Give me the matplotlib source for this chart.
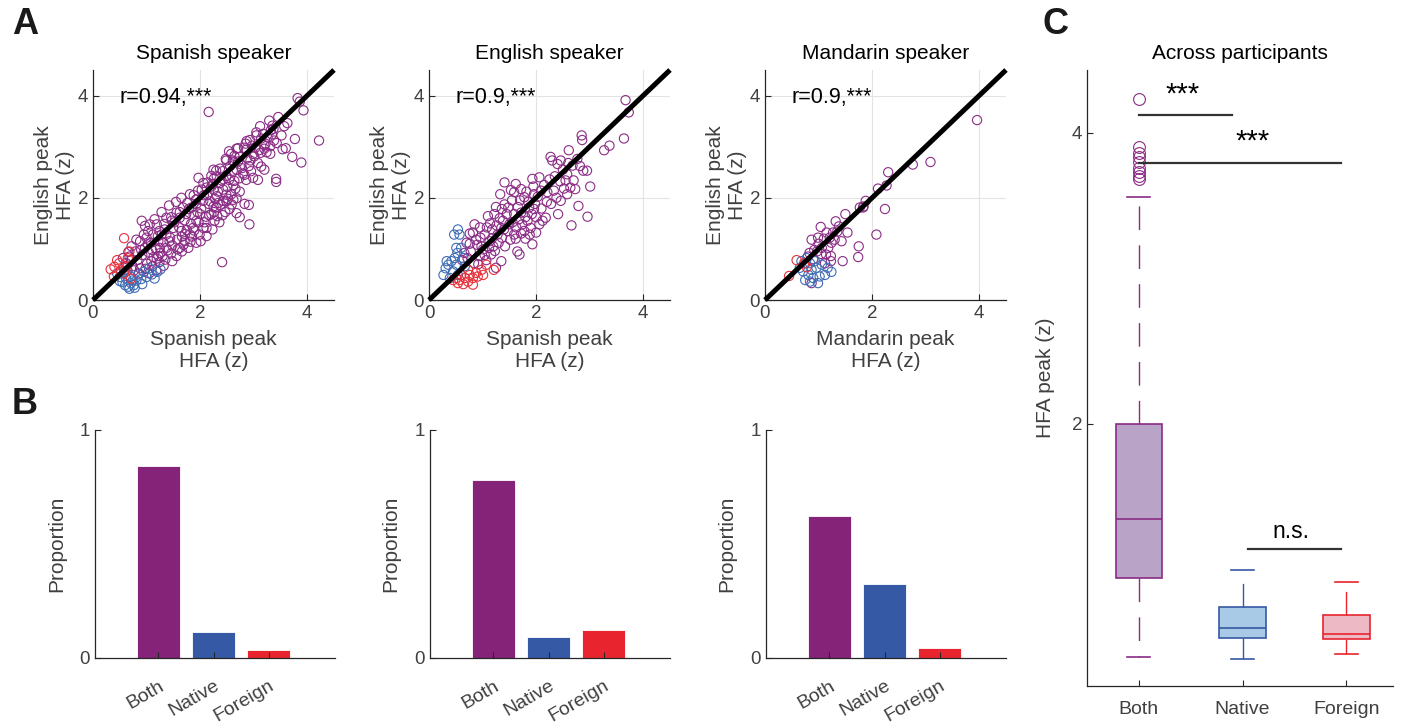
import numpy as np
import matplotlib
matplotlib.use("Agg")
from matplotlib import pyplot as plt

plt.rcParams['font.family'] = ['Liberation Sans', 'DejaVu Sans']

PURPLE = '#842377'
BLUE = '#3559A5'
RED = '#E8252F'
SC_PURPLE = '#8B2C86'
SC_BLUE = '#3F6DB5'
SC_RED = '#E8303A'
GRAY_TXT = '#404040'

# ---- scatter data: (native-language peak, English peak) per electrode ----
spanish_both = [
    (3.82, 3.95), (3.86, 3.88), (3.93, 3.71), (3.77, 3.15), (4.22, 3.12), (3.72, 2.80),
    (3.89, 2.69), (3.42, 2.37), (3.42, 2.31), (2.16, 3.68), (3.29, 3.51), (3.35, 3.41),
    (3.57, 3.40), (3.63, 3.46), (3.05, 3.28), (3.37, 3.35), (3.34, 3.24), (3.43, 3.07),
    (3.31, 3.01), (3.31, 2.86), (3.20, 2.96), (3.13, 2.88), (2.87, 3.11), (3.03, 2.98),
    (2.71, 2.97), (2.54, 2.91), (2.48, 2.76), (2.86, 2.94), (2.99, 2.86), (2.94, 2.73),
    (3.14, 2.61), (3.20, 2.55), (3.08, 2.35), (2.99, 2.39), (2.86, 2.35), (2.83, 2.45),
    (2.68, 2.55), (2.77, 2.65), (2.62, 2.71), (2.95, 2.52), (2.25, 2.55), (2.31, 2.42),
    (2.37, 2.29), (2.54, 2.35), (2.62, 2.25), (2.83, 1.88), (2.68, 1.99), (2.49, 2.06),
    (2.43, 2.16), (2.74, 2.12), (1.97, 2.39), (2.06, 2.29), (2.03, 2.16), (2.13, 2.06),
    (2.25, 2.16), (2.31, 2.03), (2.19, 1.93), (2.34, 1.90), (2.25, 1.83), (2.49, 1.93),
    (2.62, 1.96), (2.41, 0.74), (2.92, 1.48), (2.91, 1.86), (2.68, 1.70), (2.74, 1.62),
    (2.59, 1.87), (2.06, 1.41), (1.93, 1.55), (2.00, 1.68), (1.81, 1.28), (1.71, 1.15),
    (1.93, 1.12), (1.56, 0.86), (1.37, 1.02), (1.25, 1.02), (1.22, 0.86), (1.09, 0.76),
    (0.91, 1.55), (0.97, 1.45), (1.06, 1.48), (1.19, 1.48), (1.37, 1.61), (1.65, 2.00),
    (1.68, 1.81), (1.56, 1.71), (2.12, 2.20), (2.21, 2.43), (2.30, 2.53), (2.37, 2.57),
    (2.49, 2.73), (2.58, 2.86), (2.68, 2.96), (2.74, 2.80), (2.85, 3.06), (2.93, 3.13),
    (3.05, 3.22), (3.14, 3.16), (3.20, 3.03), (3.24, 2.89), (2.61, 2.73), (2.49, 2.43),
    (2.40, 2.34), (2.24, 2.27), (2.61, 2.53), (2.80, 2.47), (2.58, 2.07), (2.43, 1.94),
    (2.30, 1.81), (2.21, 1.68), (2.32, 1.64), (2.27, 1.55), (1.99, 1.28), (2.12, 1.41),
    (1.93, 1.88), (2.06, 1.94), (1.81, 2.07), (1.96, 2.14), (1.84, 1.81), (1.74, 1.68),
    (1.62, 1.61), (1.50, 1.41), (1.47, 1.55), (1.37, 1.28), (1.28, 1.28), (1.12, 1.28),
    (1.00, 1.22), (0.88, 1.15), (1.22, 1.15), (1.43, 1.15), (1.62, 1.02), (1.78, 1.02),
    (1.87, 1.41), (1.65, 1.35), (0.62, 0.72), (0.68, 0.85), (0.74, 0.66), (0.79, 0.95),
    (0.83, 0.78), (0.88, 0.62), (0.92, 0.88), (0.97, 1.02), (1.01, 0.71), (1.04, 0.93),
    (1.08, 1.12), (1.13, 0.84), (1.17, 1.01), (1.21, 1.25), (1.26, 0.92), (1.31, 1.13),
    (1.34, 1.38), (1.39, 0.97), (1.44, 1.22), (1.48, 1.07), (1.52, 1.52), (1.57, 1.18),
    (1.61, 1.42), (1.66, 1.24), (1.71, 1.56), (1.75, 1.37), (1.79, 1.78), (1.83, 1.49),
    (1.88, 1.66), (1.92, 1.96), (1.97, 1.52), (2.02, 1.79), (2.07, 2.05), (2.11, 1.63),
    (2.16, 1.88), (2.21, 2.22), (2.26, 1.72), (2.33, 2.12), (2.38, 1.86), (2.44, 2.36),
    (2.51, 2.21), (2.56, 2.62), (2.64, 2.33), (2.71, 2.71), (2.78, 2.58), (2.88, 2.77),
    (2.97, 3.02), (3.08, 2.68), (3.18, 3.25), (3.26, 3.18), (3.38, 3.12), (3.46, 3.58),
    (3.52, 3.22), (3.54, 2.95), (3.60, 2.97), (0.72, 1.05), (0.81, 1.18), (0.66, 0.94),
    (0.95, 1.28), (1.03, 1.35), (1.15, 1.58), (1.28, 1.72), (1.42, 1.85), (1.55, 1.92),
    (0.77, 0.58), (0.86, 0.52), (0.98, 0.61), (1.11, 0.66), (1.24, 0.74), (1.35, 0.79),
    (1.46, 0.91), (1.66, 0.95), (1.82, 1.14), (2.01, 1.15), (2.12, 1.25), (2.23, 1.38),
    (2.36, 1.52), (2.47, 1.72), (2.55, 1.78), (1.05, 0.52), (1.18, 0.58), (0.56, 0.82),
    (0.58, 0.63), (0.64, 0.58), (0.71, 0.78), (0.90, 0.98), (1.02, 1.09), (1.10, 0.98),
    (1.19, 0.81), (1.30, 0.86), (1.32, 0.67), (1.48, 0.76), (1.58, 0.99), (1.69, 1.08),
    (1.72, 1.29), (1.85, 1.24), (1.89, 1.36), (1.95, 1.72), (2.08, 1.52), (2.17, 1.66),
    (2.28, 1.98), (2.42, 1.66), (2.52, 1.98), (2.66, 2.18), (2.73, 2.38), (2.91, 2.62),
    (3.01, 2.81), (3.10, 2.93), (3.22, 3.06), (3.32, 3.32), (3.12, 3.40), (2.82, 2.98),
    (2.64, 2.82), (2.42, 2.52), (2.26, 2.38), (2.14, 2.30), (1.88, 2.05), (1.76, 1.90),
    (1.62, 1.72), (1.46, 1.62), (1.33, 1.49), (1.24, 1.35),
]
spanish_native = [
    (0.55, 0.35), (0.60, 0.29), (0.66, 0.26), (0.71, 0.33), (0.76, 0.29), (0.62, 0.42),
    (0.50, 0.45), (0.81, 0.38), (0.90, 0.41), (1.00, 0.45), (1.10, 0.50), (1.20, 0.55),
    (1.26, 0.60), (0.85, 0.50), (0.70, 0.46), (0.58, 0.55), (0.95, 0.55), (1.05, 0.62),
    (0.68, 0.22), (0.78, 0.24), (0.50, 0.37), (0.45, 0.52), (0.64, 0.58), (1.15, 0.42),
    (0.92, 0.31), (0.74, 0.38),
]
spanish_foreign = [
    (0.58, 1.21), (0.33, 0.60), (0.40, 0.65), (0.49, 0.72), (0.65, 0.82), (0.68, 0.95),
    (0.58, 0.52), (0.71, 0.42), (0.39, 0.46), (0.52, 0.58), (0.45, 0.78), (0.62, 0.66),
]

english_both = [
    (3.67, 3.91), (3.73, 3.67), (3.64, 3.16), (3.27, 2.93), (3.37, 3.02), (2.85, 3.22),
    (2.86, 3.13), (2.88, 2.53), (2.95, 2.53), (3.01, 2.22), (2.96, 1.63), (2.79, 1.84),
    (2.66, 1.46), (2.41, 1.68), (2.61, 2.93), (2.27, 2.80), (2.30, 2.73), (2.46, 2.73),
    (2.40, 2.66), (2.77, 2.76), (2.70, 2.34), (2.73, 2.17), (2.64, 2.20), (2.58, 2.07),
    (2.46, 1.94), (2.33, 2.14), (2.21, 2.11), (2.06, 2.40), (1.93, 2.37), (2.09, 2.14),
    (1.96, 2.07), (1.78, 2.01), (1.72, 2.17), (1.59, 2.11), (1.62, 2.27), (1.53, 2.15),
    (1.41, 2.30), (1.33, 2.07), (1.48, 1.81), (1.41, 1.87), (1.59, 1.68), (1.72, 1.71),
    (1.87, 1.81), (1.96, 1.78), (2.18, 1.61), (2.06, 1.48), (1.90, 1.41), (1.93, 1.09),
    (1.65, 0.95), (1.69, 0.89), (1.78, 1.35), (1.59, 1.28), (1.22, 1.68), (1.10, 1.64),
    (1.04, 1.28), (1.13, 1.15), (0.98, 1.05), (0.85, 1.48), (0.82, 1.32), (0.70, 1.12),
    (1.35, 1.41), (1.38, 1.55), (1.28, 1.28), (1.16, 0.89), (1.35, 0.76), (1.25, 0.63),
    (0.72, 0.82), (0.78, 0.95), (0.84, 0.72), (0.90, 1.08), (0.95, 0.86), (1.01, 0.99),
    (1.07, 0.78), (1.12, 1.02), (1.18, 1.21), (1.23, 0.96), (1.30, 1.12), (1.36, 1.22),
    (1.42, 1.05), (1.47, 1.35), (1.52, 1.18), (1.56, 1.52), (1.63, 1.42), (1.68, 1.58),
    (1.74, 1.48), (1.80, 1.62), (1.85, 1.92), (1.92, 1.68), (1.98, 1.88), (2.03, 2.02),
    (2.10, 1.79), (2.15, 2.25), (2.20, 1.92), (2.25, 2.36), (2.35, 2.42), (2.50, 2.55),
    (2.55, 2.34), (2.68, 2.63), (2.82, 2.62), (2.52, 2.18), (2.38, 2.00), (2.28, 1.88),
    (2.12, 1.55), (2.00, 1.62), (1.84, 1.55), (1.66, 1.82), (1.55, 1.95), (1.45, 1.68),
    (1.32, 1.60), (1.26, 1.46), (1.18, 1.38), (1.08, 1.42), (0.96, 1.22), (0.88, 1.18),
    (0.76, 1.10), (0.66, 0.92), (0.62, 0.78), (0.92, 0.70), (1.04, 0.88), (1.20, 1.05),
    (1.40, 1.38), (1.50, 1.48), (1.62, 1.20), (1.72, 1.30), (1.80, 1.20), (1.88, 1.28),
    (2.00, 1.32), (2.45, 2.32), (2.58, 2.46), (2.60, 2.68), (1.95, 2.22), (1.82, 2.12),
    (1.70, 1.95), (1.36, 1.78), (1.25, 1.82), (1.14, 1.50), (0.95, 1.42), (0.76, 1.30),
]
english_native = [
    (0.54, 1.38), (0.47, 1.28), (0.57, 1.28), (0.51, 1.02), (0.33, 0.76), (0.27, 0.49),
    (0.36, 0.69), (0.42, 0.76), (0.48, 0.82), (0.53, 0.92), (0.60, 1.02), (0.39, 0.43),
    (0.51, 0.69), (0.31, 0.62), (0.45, 0.56), (0.54, 0.49), (0.64, 0.82), (0.67, 0.66),
]
english_foreign = [
    (0.45, 0.39), (0.54, 0.33), (0.64, 0.31), (0.73, 0.36), (0.67, 0.43), (0.82, 0.43),
    (0.98, 0.59), (1.07, 0.69), (1.21, 0.59), (0.88, 0.53), (0.76, 0.49), (0.60, 0.49),
    (0.57, 0.39), (0.51, 0.43), (0.82, 0.30), (0.91, 0.46), (0.73, 0.59), (1.01, 0.49),
]

mandarin_both = [
    (3.96, 3.52), (2.76, 2.65), (3.09, 2.70), (2.30, 2.50), (2.11, 2.18), (2.27, 2.24),
    (1.88, 1.94), (1.84, 1.83), (1.77, 1.81), (1.83, 1.81), (2.24, 1.78), (2.08, 1.28),
    (1.75, 1.05), (1.74, 0.84), (1.50, 1.68), (1.54, 1.32), (1.32, 1.54), (1.43, 1.15),
    (1.21, 1.22), (1.24, 1.12), (1.27, 1.32), (1.04, 1.43), (0.99, 1.22), (1.06, 1.02),
    (0.87, 1.18), (0.83, 0.92), (1.23, 0.86), (1.23, 0.76), (1.45, 0.76), (1.14, 0.89),
    (0.97, 0.95), (0.87, 0.33), (1.35, 1.34), (0.80, 0.85), (0.92, 0.98), (1.00, 1.10),
    (1.10, 1.20), (1.15, 1.32), (1.30, 1.18), (1.38, 1.44), (0.90, 0.80), (1.05, 0.90),
    (1.18, 1.02), (0.75, 0.72), (1.12, 0.72),
]
mandarin_native = [
    (0.65, 0.63), (0.71, 0.56), (0.81, 0.49), (0.90, 0.43), (0.99, 0.33), (0.84, 0.36),
    (0.75, 0.39), (0.96, 0.63), (1.06, 0.69), (1.12, 0.49), (1.24, 0.55), (0.93, 0.76),
    (0.84, 0.72), (1.02, 0.46), (0.68, 0.76), (0.78, 0.82), (1.17, 0.63), (0.87, 0.59),
]
mandarin_foreign = [(0.45, 0.47), (0.59, 0.78), (0.73, 0.72), (0.78, 0.64)]

speakers = ['Spanish speaker', 'English speaker', 'Mandarin speaker']
x_labels = ['Spanish peak\nHFA (z)', 'Spanish peak\nHFA (z)', 'Mandarin peak\nHFA (z)']
r_labels = ['r=0.94,***', 'r=0.9,***', 'r=0.9,***']
scatter_sets = [
    (spanish_both, spanish_native, spanish_foreign),
    (english_both, english_native, english_foreign),
    (mandarin_both, mandarin_native, mandarin_foreign),
]

# ---- proportion of electrodes per category ----
categories = ['Both', 'Native', 'Foreign']
proportions = [
    [0.84, 0.116, 0.036],
    [0.78, 0.091, 0.123],
    [0.624, 0.323, 0.046],
]

# ---- across-participant peak HFA summary (boxplot stats) ----
box_q1 = [0.944, 0.53, 0.52]
box_med = [1.35, 0.60, 0.556]
box_q3 = [2.0, 0.74, 0.69]
box_lo = [0.40, 0.387, 0.42]
box_hi = [3.56, 0.997, 0.916]
both_outliers = [4.23, 3.90, 3.86, 3.83, 3.80, 3.76, 3.73, 3.70, 3.68]
box_edge = ['#8A2B84', '#3559A5', '#E8252F']
box_face = ['#B9A3C7', '#A9CAE6', '#EDB9C4']

W, H = 1405, 723


def rect(left, top, right, bottom):
    return [left / W, 1 - bottom / H, (right - left) / W, (bottom - top) / H]


def style_axes(ax):
    for side in ('top', 'right'):
        ax.spines[side].set_visible(False)
    for side in ('left', 'bottom'):
        ax.spines[side].set_color('#262626')
        ax.spines[side].set_linewidth(0.9)
    ax.tick_params(direction='in', length=4, width=0.8, colors='#262626',
                   labelcolor=GRAY_TXT, labelsize=13.5)


fig = plt.figure(figsize=(W / 100, H / 100), dpi=100)

# panel A: scatter of peak HFA
a_lefts = [93, 429, 765]
for i, left in enumerate(a_lefts):
    ax = fig.add_axes(rect(left, 70, left + 241, 300))
    style_axes(ax)
    both, native, foreign = [np.array(s) for s in scatter_sets[i]]
    kw = dict(s=44, facecolors='none', linewidths=0.8, zorder=2)
    ax.scatter(both[:, 0], both[:, 1], edgecolors=SC_PURPLE, **kw)
    ax.scatter(native[:, 0], native[:, 1], edgecolors=SC_BLUE, **kw)
    ax.scatter(foreign[:, 0], foreign[:, 1], edgecolors=SC_RED, **kw)
    ax.plot([0, 4.5], [0, 4.5], color='black', lw=3.6, zorder=3,
            solid_capstyle='butt', clip_on=False)
    ax.set_xlim(0, 4.5)
    ax.set_ylim(0, 4.5)
    ax.set_xticks([0, 2, 4])
    ax.set_yticks([0, 2, 4])
    ax.grid(True, color='#e3e3e3', lw=0.8)
    ax.set_axisbelow(True)
    ax.set_title(speakers[i], fontsize=15, pad=8)
    ax.set_xlabel(x_labels[i], fontsize=15, color=GRAY_TXT, labelpad=6)
    ax.set_ylabel('English peak\nHFA (z)', fontsize=15, color=GRAY_TXT, labelpad=2)
    ax.text(0.5, 3.97, r_labels[i], fontsize=15.5, va='center', ha='left')

# panel B: proportion bars
b_lefts = [95, 430, 766]
bar_colors = [PURPLE, BLUE, RED]
xpos = np.arange(1, 4)
for i, left in enumerate(b_lefts):
    ax = fig.add_axes(rect(left, 430, left + 240, 658))
    style_axes(ax)
    ax.bar(xpos, proportions[i], width=0.78, color=bar_colors,
           edgecolor='white', linewidth=0.6)
    ax.set_xlim(-0.15, 4.2)
    ax.set_ylim(0, 1)
    ax.set_yticks([0, 1])
    ax.set_xticks(xpos)
    ax.set_xticklabels(categories, rotation=30, ha='right',
                       rotation_mode='anchor', fontsize=14, color=GRAY_TXT)
    ax.tick_params(axis='x', pad=14)
    ax.set_ylabel('Proportion', fontsize=15, color=GRAY_TXT, labelpad=10)

# panel C: across participants boxplot
ax = fig.add_axes(rect(1087, 70, 1393, 686))
style_axes(ax)
stats = []
for k in range(3):
    stats.append(dict(med=box_med[k], q1=box_q1[k], q3=box_q3[k],
                      whislo=box_lo[k], whishi=box_hi[k],
                      fliers=both_outliers if k == 0 else [], label=categories[k]))
art = ax.bxp(stats, positions=[1, 2, 3], widths=0.45, capwidths=0.22,
             patch_artist=True, showfliers=True)
for k in range(3):
    art['boxes'][k].set(facecolor=box_face[k], edgecolor=box_edge[k], linewidth=1.2)
    art['medians'][k].set(color=box_edge[k], linewidth=1.2)
    for j in (2 * k, 2 * k + 1):
        art['whiskers'][j].set(color=box_edge[k], linewidth=1.0,
                               linestyle=(0, (17, 11)))
        art['caps'][j].set(color=box_edge[k], linewidth=1.2)
    art['fliers'][k].set(marker='o', markerfacecolor='none',
                         markeredgecolor=box_edge[k], markersize=8.5,
                         markeredgewidth=0.8)
ax.set_xlim(0.5, 3.45)
ax.set_ylim(0.2, 4.43)
ax.set_yticks([2, 4])
ax.set_xticks([1, 2, 3])
ax.set_xticklabels(categories, fontsize=14, color=GRAY_TXT)
ax.tick_params(axis='x', pad=11)
ax.set_ylabel('HFA peak (z)', fontsize=15, color=GRAY_TXT, labelpad=12)
ax.set_title('Across participants', fontsize=15, pad=8)

# significance brackets
ax.plot([1, 1.9], [4.12, 4.12], color='#333333', lw=1.6)
ax.plot([1, 2.95], [3.79, 3.79], color='#333333', lw=1.6)
ax.plot([2.05, 2.95], [1.14, 1.14], color='#333333', lw=1.6)
ax.text(1.42, 4.26, '***', fontsize=21, ha='center', va='center')
ax.text(2.1, 3.94, '***', fontsize=21, ha='center', va='center')
ax.text(2.47, 1.26, 'n.s.', fontsize=16.5, ha='center', va='center')

# panel letters
for letter, (x, y) in zip('ABC', [(25, 25), (25, 405), (1055, 25)]):
    fig.text(x / W, 1 - y / H, letter, fontsize=26, fontweight='bold',
             ha='center', va='center', color='#1a1a1a')

fig.savefig('out.png', dpi=100)
